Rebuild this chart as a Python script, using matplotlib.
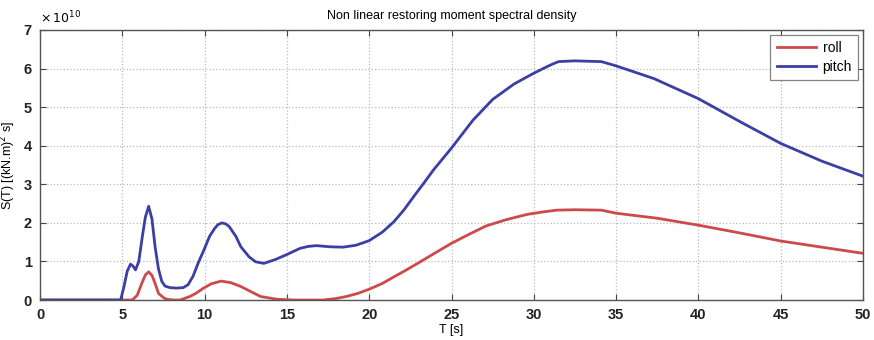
import matplotlib
matplotlib.use("Agg")
import matplotlib.pyplot as plt

plt.rcParams['font.family'] = ['Liberation Sans', 'DejaVu Sans']

# Values in units of 1e10 (kN.m)^2 s
pitch_T = [0, 4.9, 5.1, 5.3, 5.5, 5.65, 5.8, 6.0, 6.2, 6.4, 6.6, 6.8, 7.0, 7.2, 7.4, 7.6, 7.9,
           8.3, 8.7, 9.0, 9.3, 9.6, 9.95, 10.3, 10.6, 10.8, 11.05, 11.3, 11.5, 11.9, 12.2, 12.7, 13.1, 13.6,
           14.3, 15.0, 15.8, 16.3, 16.8, 17.6, 18.4, 19.2, 20.0, 20.8, 21.5, 22.1, 22.7, 23.3, 23.9,
           25.0, 26.3, 27.5, 28.8, 30.0, 31.0, 31.5, 32.5, 34.1, 35.0, 37.3, 40.0, 42.5, 45.0,
           47.5, 50.0]
pitch_S = [0, 0, 0.35, 0.75, 0.93, 0.88, 0.78, 1.0, 1.6, 2.15, 2.43, 2.1, 1.35, 0.8, 0.48, 0.36, 0.32,
           0.31, 0.32, 0.4, 0.62, 0.95, 1.29, 1.65, 1.85, 1.95, 2.0, 1.97, 1.9, 1.65, 1.38, 1.12, 0.99, 0.95,
           1.05, 1.18, 1.34, 1.39, 1.41, 1.38, 1.37, 1.42, 1.54, 1.76, 2.03, 2.33, 2.68, 3.02, 3.37,
           3.94, 4.66, 5.2, 5.6, 5.88, 6.09, 6.18, 6.2, 6.18, 6.07, 5.74, 5.22, 4.63, 4.06,
           3.6, 3.21]

roll_T = [0, 5.6, 5.9, 6.2, 6.4, 6.6, 6.8, 7.0, 7.2, 7.5, 7.7, 8.1, 8.5, 9.1, 9.5, 9.9, 10.4, 11.0,
          11.6, 12.2, 12.8, 13.4, 14.4, 15.5, 17.2, 18.0, 18.6, 19.3, 20.0, 20.8, 21.5, 22.3, 23.1,
          24.0, 25.0, 26.0, 27.1, 28.3, 29.6, 30.5, 31.4, 32.5, 34.1, 35.0, 37.5, 40.0, 42.5,
          45.0, 47.5, 50.0]
roll_S = [0, 0, 0.12, 0.45, 0.65, 0.73, 0.64, 0.42, 0.17, 0.06, 0.02, 0.0, 0.0, 0.09, 0.18, 0.3, 0.42, 0.49,
          0.45, 0.35, 0.22, 0.09, 0.02, 0.0, 0.0, 0.04, 0.09, 0.17, 0.28, 0.43, 0.6, 0.79, 0.99,
          1.22, 1.47, 1.69, 1.92, 2.08, 2.22, 2.28, 2.33, 2.34, 2.33, 2.25, 2.12, 1.94, 1.74,
          1.53, 1.37, 1.21]

x_ticks = [0, 5, 10, 15, 20, 25, 30, 35, 40, 45, 50]
y_ticks = [0, 1, 2, 3, 4, 5, 6, 7]

fig = plt.figure(figsize=(8.74, 3.4), dpi=100)
ax = fig.add_axes([0.0458, 0.1176, 0.9416, 0.7942])

ax.plot(roll_T, roll_S, color='#cc4a4c', lw=2.0, label='roll', solid_joinstyle='round')
ax.plot(pitch_T, pitch_S, color='#3b3fa3', lw=2.0, label='pitch', solid_joinstyle='round')

ax.set_xlim(0, 50)
ax.set_ylim(0, 7)
ax.set_xticks(x_ticks)
ax.set_yticks(y_ticks)
ax.tick_params(direction='in', top=True, right=True, labelsize=10.5, length=4, width=0.8,
               color='#444444', pad=6)
for lbl in ax.get_xticklabels() + ax.get_yticklabels():
    lbl.set_fontweight('bold')
    lbl.set_color('#222222')
ax.grid(True, linestyle=':', color='#bbbbbb', linewidth=0.9)
for s in ax.spines.values():
    s.set_color('#555555')
    s.set_linewidth(1.0)

ax.set_title('Non linear restoring moment spectral density', fontsize=9, pad=8)
ax.set_xlabel('T [s]', fontsize=9, labelpad=1)
ax.set_ylabel('S(T) [(kN.m)$^2$ s]', fontsize=9, labelpad=4)
ax.text(0.0, 1.012, r'$\times\,10^{10}$', transform=ax.transAxes, fontsize=9,
        ha='left', va='bottom')

leg = ax.legend(loc='upper right', fontsize=10, frameon=True, fancybox=False,
                edgecolor='#666666', handlelength=2.8, borderaxespad=0.35,
                borderpad=0.45, labelspacing=0.35, handletextpad=0.5)
leg.get_frame().set_linewidth(0.9)

fig.savefig('out.png', dpi=100)
